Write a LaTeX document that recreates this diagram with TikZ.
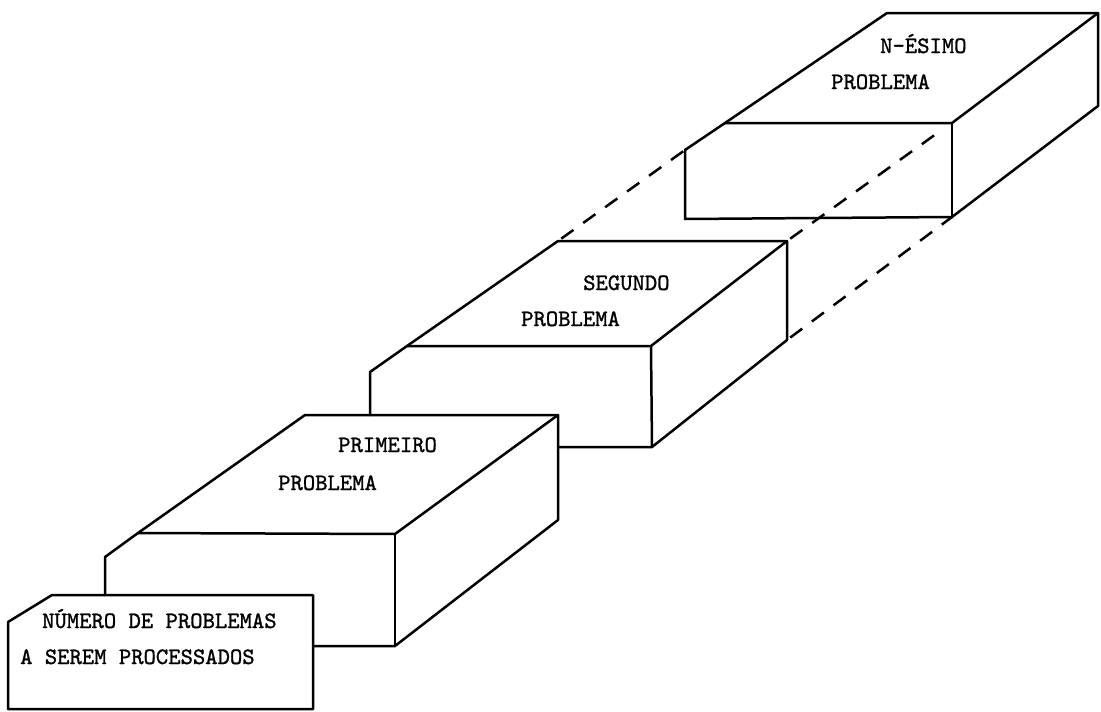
\documentclass[tikz,border=0pt]{standalone}
% typewriter face, slightly heavier than the default mono
\font\typer="[lmmono10-regular]:embolden=1.2" at 23.5pt
\begin{document}
\begin{tikzpicture}[x=1pt,y=-1pt,
  edge/.style={line width=2.5pt, line join=round, line cap=round},
  hidden/.style={line width=2.5pt, dash pattern=on 15pt off 12pt, dash phase=-4pt},
  caption/.style={font=\typer, anchor=base west, inner sep=0pt}]
\useasboundingbox (0,0) rectangle (1101,712);

% ---- last block (N-th problem) ----
\coordinate (nA) at (685,150);   % chamfer, lower end
\coordinate (nB) at (725,123);   % front top left
\coordinate (nC) at (952,123);   % front top right
\coordinate (nD) at (887,13);    % back top left
\coordinate (nE) at (1098,13);   % back top right
\coordinate (nF) at (1098,106);  % back bottom right
\coordinate (nG) at (952,217);   % front bottom right
\coordinate (nH) at (685,219);   % front bottom left
\draw[edge] (nH) -- (nA) -- (nB) -- (nD) -- (nE) -- (nF) -- (nG) -- cycle;
\draw[edge] (nB) -- (nC) -- (nE);
\draw[edge] (nC) -- (nG);
\node[caption] (nt1) at (880,53) {N-ÉSIMO};
\node[caption] (nt2) at (831,89) {PROBLEMA};

% ---- second block ----
\coordinate (sA) at (370,372);
\coordinate (sB) at (407,346);
\coordinate (sC) at (651,346);
\coordinate (sD) at (558,241);
\coordinate (sE) at (787,241);
\coordinate (sF) at (787,340);
\coordinate (sG) at (652,447);
\coordinate (sH) at (558,447);   % where the first block hides the front face
\coordinate (sI) at (370,415);
\draw[edge] (sI) -- (sA) -- (sB) -- (sD) -- (sE) -- (sF) -- (sG) -- (sH);
\draw[edge] (sB) -- (sC) -- (sE);
\draw[edge] (sC) -- (sG);
\node[caption] (st1) at (583,290) {SEGUNDO};
\node[caption] (st2) at (521,326) {PROBLEMA};

% ---- first block ----
\coordinate (pA) at (105,557);
\coordinate (pB) at (138,533);
\coordinate (pC) at (395,534);
\coordinate (pD) at (305,415);
\coordinate (pE) at (558,415);
\coordinate (pF) at (558,520);
\coordinate (pG) at (395,646);
\coordinate (pH) at (313,646);   % where the header card hides the front face
\coordinate (pI) at (105,595);
\draw[edge] (pI) -- (pA) -- (pB) -- (pD) -- (pE) -- (pF) -- (pG) -- (pH);
\draw[edge] (pB) -- (pC) -- (pE);
\draw[edge] (pC) -- (pG);
\node[caption] (pt1) at (338,452) {PRIMEIRO};
\node[caption] (pt2) at (278,490) {PROBLEMA};

% ---- header card ----
\coordinate (hA) at (8,622);
\coordinate (hB) at (52,595);
\coordinate (hC) at (313,595);
\coordinate (hD) at (313,709);
\coordinate (hE) at (8,709);
\draw[edge] (hA) -- (hB) -- (hC) -- (hD) -- (hE) -- cycle;
\node[caption] (ht1) at (42,628) {NÚMERO DE PROBLEMAS};
\node[caption] (ht2) at (20,664) {A SEREM PROCESSADOS};

% ---- dashed continuation between the second and the last block ----
\coordinate (dEnd) at (936,134);
\draw[hidden] (sD) -- (nA);
\draw[hidden] (sE) -- (dEnd);
\draw[hidden] (sF) -- (nG);
\end{tikzpicture}
\end{document}
